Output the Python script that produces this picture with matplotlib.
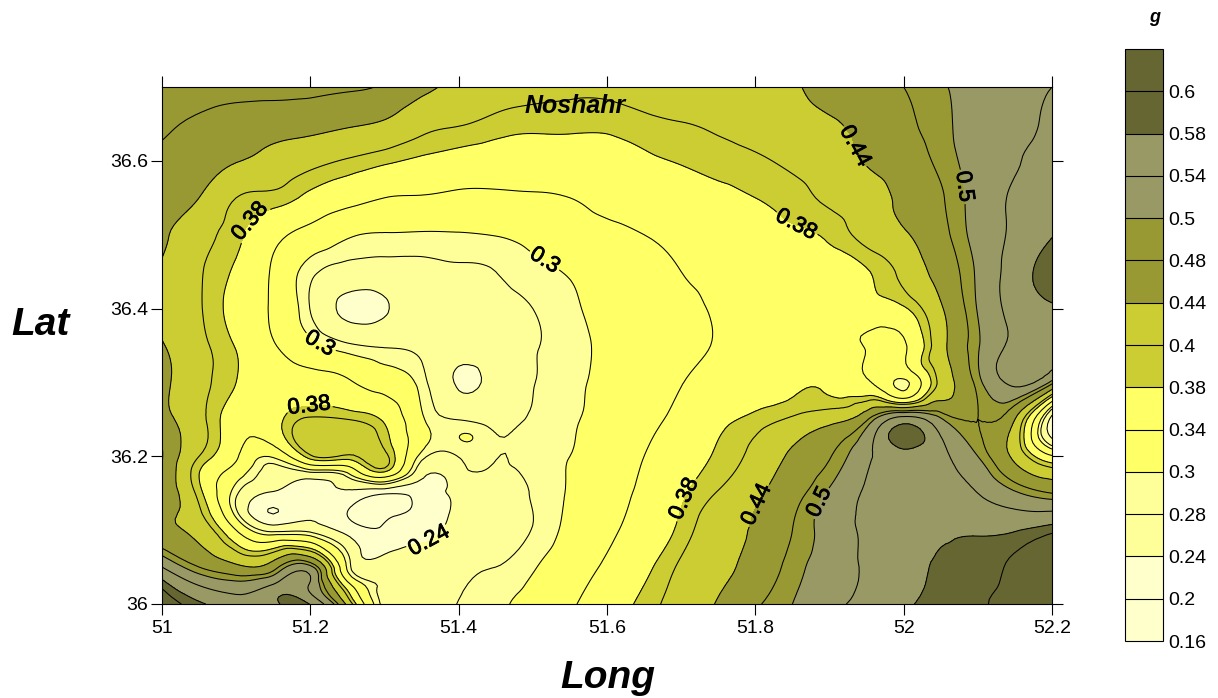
import numpy as np
import matplotlib
matplotlib.use('Agg')
import matplotlib.pyplot as plt
import matplotlib.tri as mtri
import matplotlib.patheffects as pe

plt.rcParams['font.family'] = ['Liberation Sans', 'DejaVu Sans']

# grid, every 0.05 degree
lon = [51.0, 51.05, 51.1, 51.15, 51.2, 51.25, 51.3, 51.35, 51.4, 51.45, 51.5, 51.55, 51.6,
       51.65, 51.7, 51.75, 51.8, 51.85, 51.9, 51.95, 52.0, 52.05, 52.1, 52.15, 52.2]
lat = [36.7, 36.65, 36.6, 36.55, 36.5, 36.45, 36.4, 36.35, 36.3, 36.25, 36.2, 36.15, 36.1, 36.05, 36.0]
g_values = [
    [.495,.495,.495,.495,.49,.485,.475,.45,.43,.42,.41,.405,.405,.41,.415,.42,.43,.437,.45,.465,.48,.497,.51,.525,.54],
    [.484,.475,.464,.457,.454,.445,.435,.412,.402,.392,.387,.387,.387,.394,.399,.405,.415,.428,.437,.45,.472,.493,.513,.527,.55],
    [.472,.458,.442,.426,.41,.397,.385,.375,.367,.362,.36,.36,.362,.374,.382,.389,.395,.407,.42,.443,.462,.487,.514,.537,.55],
    [.46,.44,.40,.392,.372,.354,.34,.337,.332,.333,.336,.34,.349,.357,.365,.373,.38,.39,.405,.42,.45,.477,.514,.545,.556],
    [.448,.412,.386,.352,.326,.304,.298,.297,.298,.301,.31,.322,.331,.34,.349,.358,.366,.375,.385,.412,.436,.47,.512,.548,.578],
    [.435,.403,.375,.335,.287,.268,.266,.272,.277,.28,.293,.302,.316,.328,.34,.347,.355,.362,.37,.378,.41,.456,.505,.56,.595],
    [.432,.403,.368,.335,.279,.23,.236,.26,.268,.27,.28,.295,.31,.322,.333,.343,.35,.356,.362,.366,.376,.435,.502,.555,.575],
    [.443,.408,.378,.343,.31,.285,.277,.27,.252,.265,.278,.291,.306,.318,.331,.342,.348,.352,.355,.338,.335,.425,.497,.55,.55],
    [.452,.41,.38,.358,.355,.345,.322,.29,.236,.255,.279,.293,.309,.324,.339,.353,.365,.372,.37,.345,.293,.41,.49,.552,.49],
    [.455,.41,.36,.365,.405,.40,.375,.305,.279,.27,.284,.296,.314,.331,.35,.372,.387,.405,.425,.475,.56,.505,.48,.44,.22],
    [.482,.40,.345,.305,.395,.395,.41,.29,.281,.281,.29,.30,.32,.34,.362,.384,.41,.447,.478,.53,.57,.55,.5,.43,.345],
    [.478,.39,.285,.235,.228,.232,.205,.215,.252,.268,.282,.303,.325,.347,.375,.402,.432,.467,.505,.545,.56,.56,.54,.505,.48],
    [.45,.425,.34,.27,.27,.225,.207,.225,.255,.272,.281,.309,.333,.356,.387,.422,.445,.48,.515,.545,.55,.57,.575,.578,.594],
    [.54,.48,.45,.465,.51,.295,.265,.255,.272,.28,.297,.322,.345,.372,.405,.43,.455,.49,.515,.545,.56,.588,.592,.605,.615],
    [.62,.585,.56,.57,.578,.43,.27,.262,.281,.293,.315,.336,.36,.388,.415,.443,.475,.5,.53,.55,.575,.59,.598,.61,.63],
]

# extra readings where the contours crowd together
extra_lon = [51.05, 51.1, 51.15, 51.2, 51.25, 51.3, 51.35, 51.4, 51.45,
             51.05, 51.1, 51.15, 51.2, 51.25, 51.3, 51.35, 51.4, 51.45,
             51.05, 51.1, 51.15, 51.2, 51.25, 51.3, 51.35,
             51.459, 51.4, 51.43,
             51.975, 52.015, 52.0, 51.975, 52.03]
extra_lat = [36.175, 36.175, 36.175, 36.175, 36.175, 36.175, 36.175, 36.175, 36.175,
             36.125, 36.125, 36.125, 36.125, 36.125, 36.125, 36.125, 36.125, 36.125,
             36.025, 36.025, 36.025, 36.025, 36.025, 36.025, 36.025,
             36.21, 36.222, 36.231,
             36.314, 36.31, 36.276, 36.276, 36.276]
extra_g = [.38, .315, .265, .262, .29, .36, .25, .265, .274,
           .405, .285, .198, .232, .2, .185, .21, .25, .27,
           .54, .515, .545, .535, .36, .272, .257,
           .2805, .299, .292,
           .325, .335, .355, .385, .41]

levels = [.16, .2, .24, .28, .3, .34, .38, .4, .44, .48, .5, .54, .58, .6, .64]
level_labels = ['0.16', '0.2', '0.24', '0.28', '0.3', '0.34', '0.38', '0.4', '0.44', '0.48', '0.5', '0.54', '0.58', '0.6']
colors = ['#FFFFCC', '#FFFFCC', '#FFFF99', '#FFFF99', '#FFFF66', '#FFFF66', '#CCCC33', '#CCCC33',
          '#999933', '#999933', '#999966', '#999966', '#666633', '#666633']

# where the contour labels sit on the map
label_lons = [51.128, 51.198, 51.214, 51.513, 51.357, 51.854, 51.935, 52.08, 51.707, 51.803, 51.888]
label_lats = [36.51, 36.273, 36.355, 36.46, 36.093, 36.511, 36.62, 36.565, 36.141, 36.134, 36.137]

W, H = 1218, 698
fig = plt.figure(figsize=(W / 100, H / 100), dpi=100)
ax = fig.add_axes([162 / W, 1 - 604 / H, 890 / W, 517 / H])

X, Y = np.meshgrid(lon, lat)
xs = np.concatenate([X.ravel(), extra_lon])
ys = np.concatenate([Y.ravel(), extra_lat])
zs = np.concatenate([np.array(g_values).ravel(), extra_g])
tri = mtri.Triangulation(xs, ys)
refiner = mtri.UniformTriRefiner(tri)
tri_fine, z_fine = refiner.refine_field(zs, subdiv=3)

cf = ax.tricontourf(tri_fine, z_fine, levels=levels, colors=colors, extend='neither')
cs = ax.tricontour(tri_fine, z_fine, levels=levels[:-1], colors='black', linewidths=0.75)

ax.set_xlim(51, 52.2)
ax.set_ylim(36, 36.7)

texts = ax.clabel(cs, manual=list(zip(label_lons, label_lats)), inline=True, inline_spacing=2,
                  fontsize=16, fmt=lambda v: f'{v:g}')
for t in texts:
    t.set_path_effects([pe.withStroke(linewidth=0.6, foreground='black')])

ax.set_xticks([51, 51.2, 51.4, 51.6, 51.8, 52, 52.2])
ax.set_xticklabels(['51', '51.2', '51.4', '51.6', '51.8', '52', '52.2'])
ax.set_yticks([36, 36.2, 36.4, 36.6])
ax.set_yticklabels(['36', '36.2', '36.4', '36.6'])
ax.tick_params(axis='both', direction='out', length=8, width=0.8, labelsize=14, top=True, right=True)
ax.tick_params(axis='x', pad=3.5)
ax.tick_params(axis='y', pad=2)
for spine in ax.spines.values():
    spine.set_linewidth(0.8)

ax.text(51.557, 36.674, 'Noshahr', fontsize=18, fontweight='bold', fontstyle='italic', ha='center', va='center')
fig.text(608 / W, 1 - 678 / H, 'Long', fontsize=28, fontweight='bold', fontstyle='italic', ha='center', va='center')
fig.text(41 / W, 1 - 325 / H, 'Lat', fontsize=28, fontweight='bold', fontstyle='italic', ha='center', va='center')

# legend strip on the right
cax = fig.add_axes([1125 / W, 1 - 641 / H, 38 / W, 592 / H])
cb = fig.colorbar(cf, cax=cax, spacing='uniform', ticks=levels[:-1], drawedges=True)
cb.ax.set_yticklabels(level_labels)
cb.ax.tick_params(labelsize=14, length=0, pad=3.5)
cb.outline.set_linewidth(0.8)
cb.dividers.set_linewidth(0.8)
fig.text(1155 / W, 1 - 18 / H, 'g', fontsize=13, fontweight='bold', fontstyle='italic', ha='center', va='center')

fig.savefig('out.png', dpi=100)
